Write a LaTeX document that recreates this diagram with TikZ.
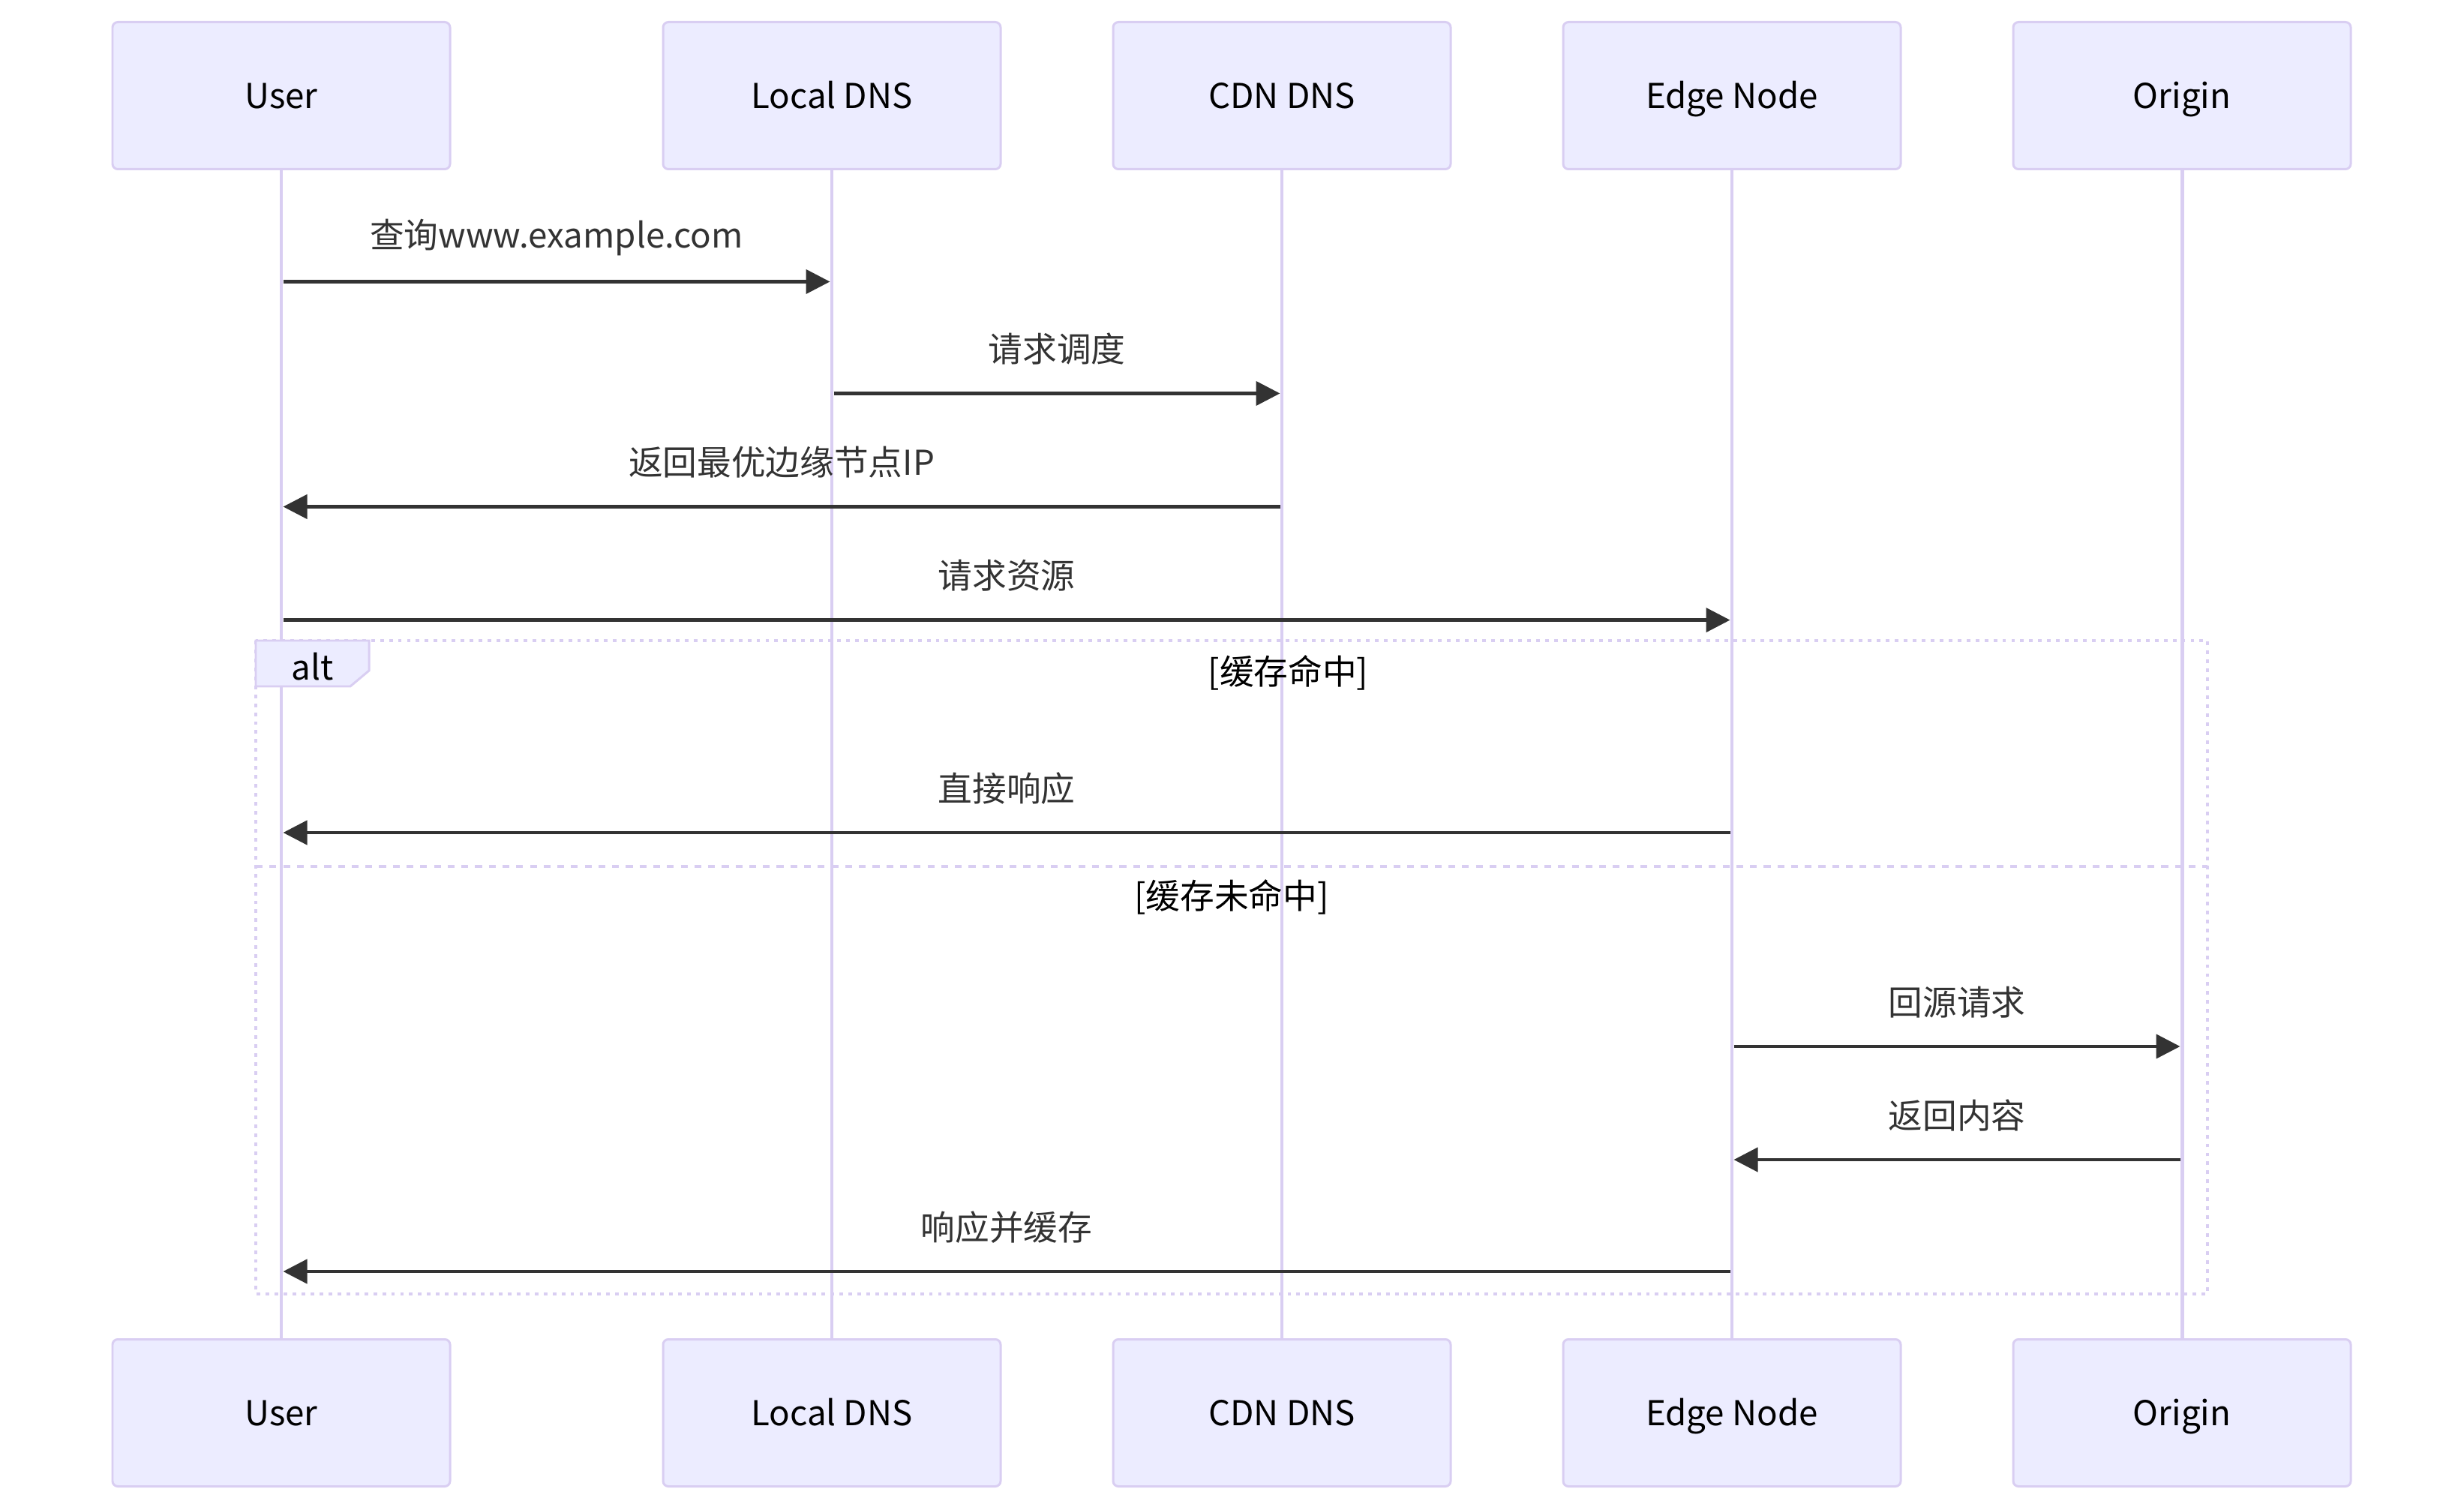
\documentclass[tikz,border=0pt]{standalone}
\usepackage{fontspec}
\setmainfont{Noto Sans CJK SC}
\usepackage{xcolor}
\usetikzlibrary{calc,shapes,arrows,backgrounds,fit,positioning,arrows.meta}

\definecolor{actfill}{HTML}{ECECFF}
\definecolor{actline}{HTML}{D9CEF2}
\definecolor{msgcol}{HTML}{333333}

\begin{document}
\begin{tikzpicture}[
        actor/.style={draw=actline,fill=actfill,line width=0.85pt,rounded corners=0.07cm,
            minimum width=4.5cm,minimum height=1.96cm,inner sep=0pt,outer sep=0pt,
            text height=9.5pt,text depth=0pt,font=\fontsize{13}{15}\selectfont},
        life/.style={draw=actline,line width=1.4pt},
        msg/.style={draw=msgcol,line width=1.25pt,-{Triangle[length=0.32cm,width=0.32cm]},
            shorten <=0.025cm,shorten >=0.025cm},
        msglbl/.style={text=msgcol,font=\fontsize{13}{15}\selectfont,yshift=0.59cm},
        frm/.style={draw=actline,line width=1.15pt,dash pattern=on 1.4pt off 2pt},
        sep/.style={draw=actline,line width=1.15pt,dash pattern=on 2.6pt off 2.6pt},
        cond/.style={font=\fontsize{13}{15}\selectfont,text height=9.5pt,text depth=0pt,inner sep=0pt}
    ]
        %\draw [help lines] (0,0) grid (33,-20);
        \useasboundingbox (0,0) rectangle (32.85,-20.13);

        \node[actor] (user1) at (3.75,-1.275) {User};
        \node[actor,right = 2.84cm of user1] (ldns1) {Local DNS};
        \node[actor,right = 1.5cm of ldns1] (cdns1) {CDN DNS};
        \node[actor,right = 1.5cm of cdns1] (edge1) {Edge Node};
        \node[actor,right = 1.5cm of edge1] (orig1) {Origin};

        \node[actor,below = 15.6cm of user1] (user2) {User};
        \node[actor,below = 15.6cm of ldns1] (ldns2) {Local DNS};
        \node[actor,below = 15.6cm of cdns1] (cdns2) {CDN DNS};
        \node[actor,below = 15.6cm of edge1] (edge2) {Edge Node};
        \node[actor,below = 15.6cm of orig1] (orig2) {Origin};

        \draw[life] (user1) -- (user2);
        \draw[life] (ldns1) -- (ldns2);
        \draw[life] (cdns1) -- (cdns2);
        \draw[life] (edge1) -- (edge2);
        \draw[life] (orig1) -- (orig2);

        \coordinate (m1) at (0,-3.755);
        \coordinate (m2) at (0,-5.245);
        \coordinate (m3) at (0,-6.755);
        \coordinate (m4) at (0,-8.266);
        \coordinate (m5) at (0,-11.10);
        \coordinate (m6) at (0,-13.95);
        \coordinate (m7) at (0,-15.46);
        \coordinate (m8) at (0,-16.95);

        \draw[msg] (user1 |- m1) -- (ldns1 |- m1) node[midway,msglbl] {查询www.example.com};
        \draw[msg] (ldns1 |- m2) -- (cdns1 |- m2) node[midway,msglbl] {请求调度};
        \draw[msg] (cdns1 |- m3) -- (user1 |- m3) node[midway,msglbl] {返回最优边缘节点IP};
        \draw[msg] (user1 |- m4) -- (edge1 |- m4) node[midway,msglbl] {请求资源};

        % alt block
        \coordinate (alt1) at ($(user1 |- 0,-8.54)+(-0.34,0)$);
        \coordinate (alt2) at ($(orig1 |- 0,-17.25)+(0.34,0)$);
        \draw[frm] (alt1) rectangle (alt2);
        \draw[sep] (alt1 |- 0,-11.55) -- (alt2 |- 0,-11.55);
        \draw[draw=actline,fill=actfill,line width=0.85pt] (alt1) -- ++(1.51,0) -- ++(0,-0.40)
            -- ++(-0.25,-0.21) -- ++(-1.26,0) -- cycle;
        \node[cond] (alt) at ($(alt1)+(0.755,-0.36)$) {alt};
        \node[cond] (hit) at (17.175,-8.96) {[缓存命中]};
        \node[cond] (miss) at (16.42,-11.95) {[缓存未命中]};

        \draw[msg] (edge1 |- m5) -- (user1 |- m5) node[midway,msglbl] {直接响应};
        \draw[msg] (edge1 |- m6) -- (orig1 |- m6) node[midway,msglbl] {回源请求};
        \draw[msg] (orig1 |- m7) -- (edge1 |- m7) node[midway,msglbl] {返回内容};
        \draw[msg] (edge1 |- m8) -- (user1 |- m8) node[midway,msglbl] {响应并缓存};
    \end{tikzpicture}
\end{document}
